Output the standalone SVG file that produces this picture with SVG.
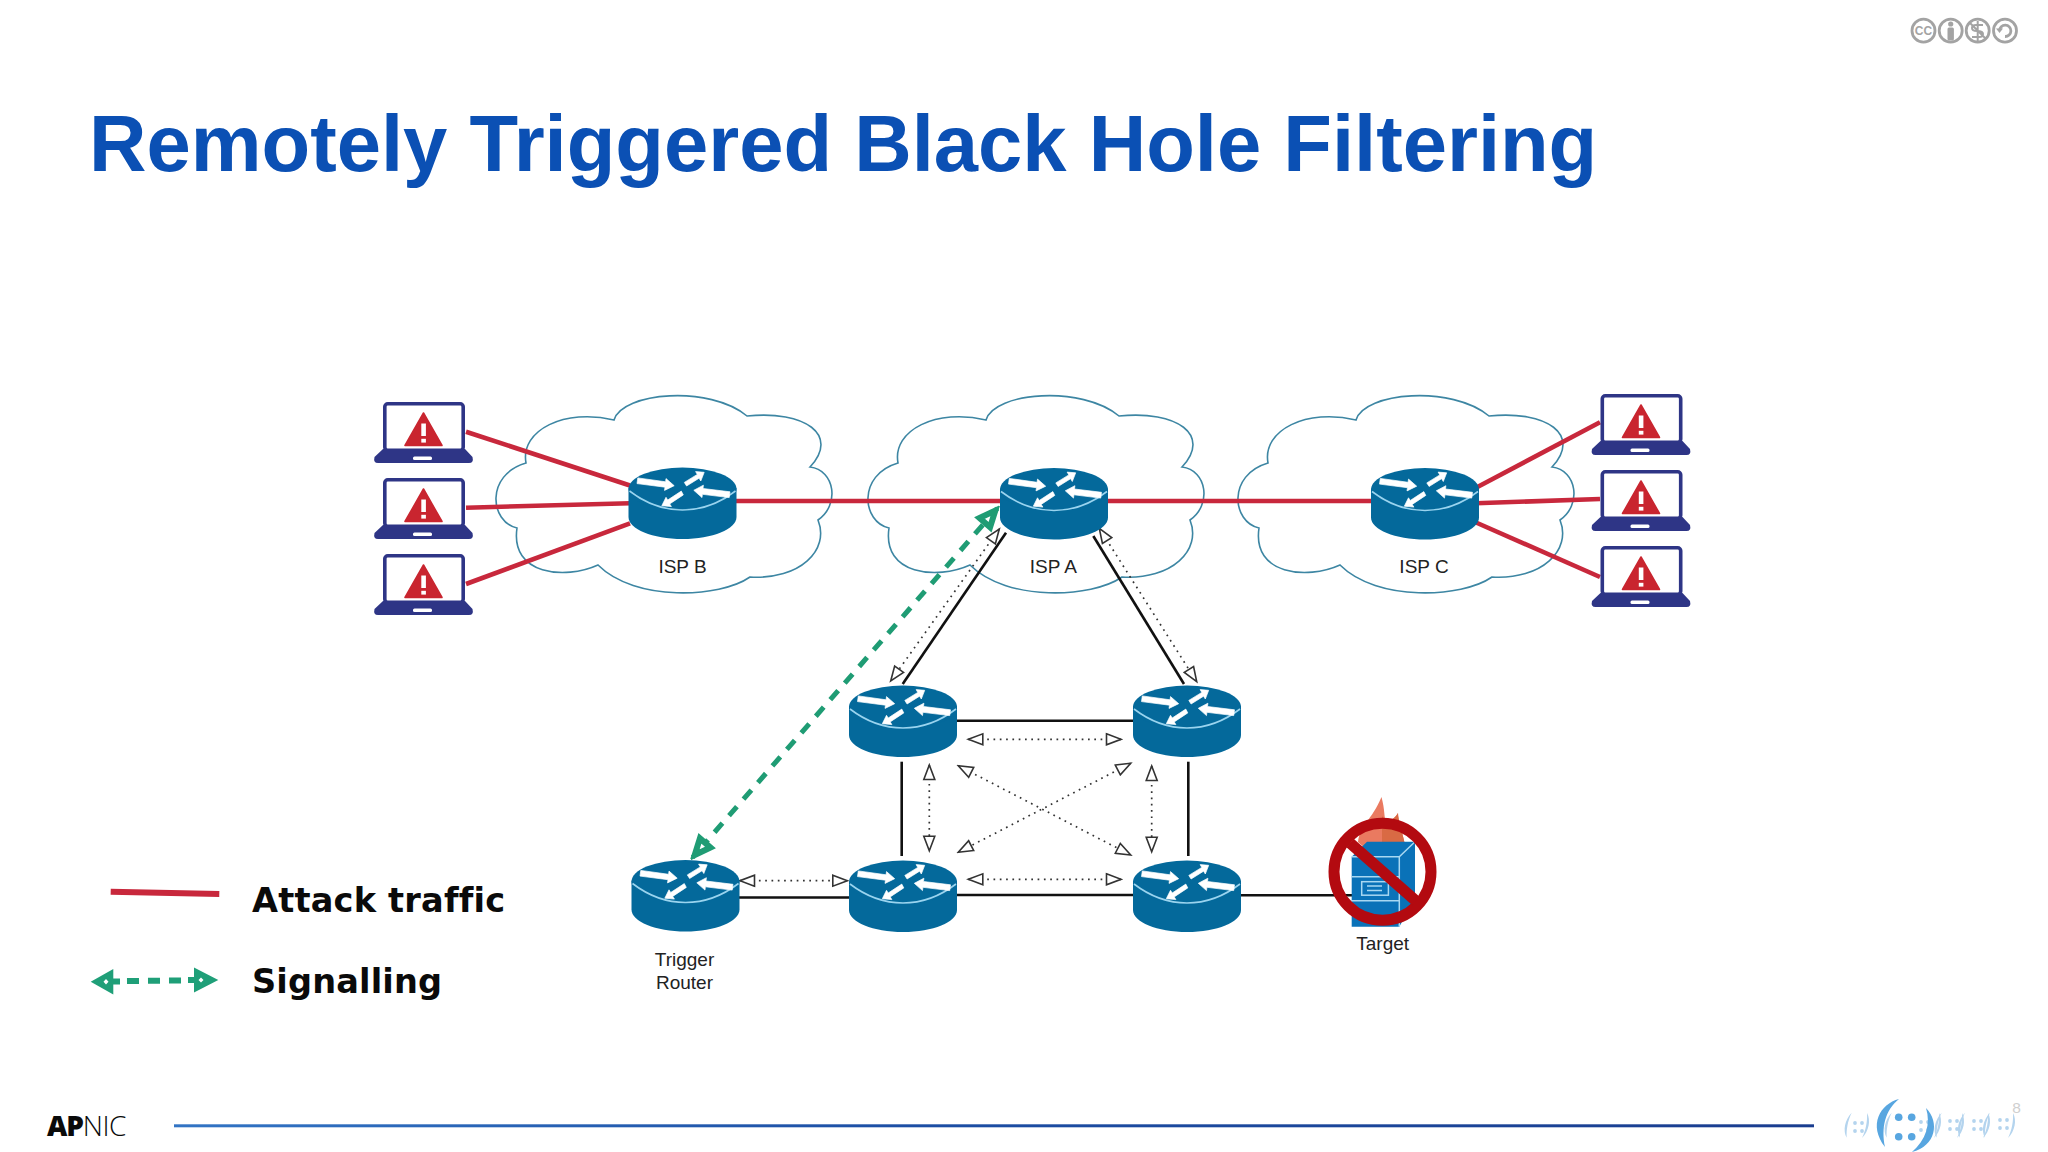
<svg xmlns="http://www.w3.org/2000/svg" xmlns:xlink="http://www.w3.org/1999/xlink" width="2048" height="1152" viewBox="0 0 2048 1152">
<style>
.title{font:700 79.6px "Liberation Sans",Arial,sans-serif;fill:#0b50b4}
.lbl{font:19px "Liberation Sans",Arial,sans-serif;fill:#222;text-anchor:middle}
.leg{font:700 33.6px "DejaVu Sans",sans-serif;fill:#0a0a0a}
.cloud{fill:none;stroke:#3d86a3;stroke-width:1.6}
.red{stroke:#c8283c;stroke-width:4.6;fill:none}
.blk{stroke:#111;stroke-width:2.6;fill:none}
.dot{stroke:#333;stroke-width:1.7;fill:none;stroke-dasharray:1.7 4.6;marker-start:url(#open);marker-end:url(#open)}
.grn{stroke:#1f9c74;stroke-width:5;fill:none;stroke-dasharray:12 10}
.gf{fill:#1f9f78}
.cc{fill:none;stroke:#a3a3a3;stroke-width:2.8}
.ccf{fill:#a3a3a3}
.blue{fill:#58a6e0}
.pale{fill:#b4d4ee}
</style>
<defs>
<linearGradient id="rule" x1="0" x2="1" y1="0" y2="0"><stop offset="0" stop-color="#3274c4"/><stop offset="0.45" stop-color="#1c4ea4"/><stop offset="1" stop-color="#1a3d8f"/></linearGradient>
<marker id="open" markerUnits="userSpaceOnUse" markerWidth="18" markerHeight="14" refX="16" refY="7" orient="auto-start-reverse"><path d="M1.5,1.5 L16,7 L1.5,12.5 Z" fill="#fff" stroke="#333" stroke-width="1.6"/></marker>
<marker id="ghead" markerUnits="userSpaceOnUse" markerWidth="26" markerHeight="24" refX="23" refY="12" orient="auto-start-reverse"><path d="M4,5 L20,12 L4,19 Z" fill="#fff" stroke="#1f9c74" stroke-width="6" stroke-linejoin="miter"/></marker>
<g id="router-icon">
<path d="M0,21 V50 C0,62 24,72 54,72 C84,72 108,62 108,50 V21 Z" fill="#04699b"/>
<ellipse cx="54" cy="22" rx="54" ry="21.5" fill="#04699b"/>
<path d="M1,24 C18,37 36,43 54,43 C72,43 90,37 107,24" fill="none" stroke="#9ad4ef" stroke-width="1.6"/>
<g fill="#fff" stroke="#fff" stroke-width="0.7" stroke-linejoin="round">
<polygon points="8.5,16.6 36.5,20.2 36,23.4 45.7,18.7 37.5,11.6 37.1,14.8 9.3,10.9"/>
<polygon points="58.1,19 70.6,11.2 72.3,14 75.7,5.3 67.1,4.6 68.8,7.4 55.8,15.4"/>
<polygon points="101.5,24.8 74.5,21.5 74.9,18.2 65.3,23.3 73.5,30.6 73.9,27.3 100.7,30.6"/>
<polygon points="54.8,27.9 41.2,36.9 42.9,39.6 33.3,38.7 37.5,30.3 39.2,33 52.8,24.1"/>
</g>
</g>
<path id="cloud-shape" d="M166,83 C160,50 205,28 254,40 C262,12 350,5 387,36 C445,30 480,55 450,87 C475,90 480,125 458,140 C470,170 440,200 390,197 C360,218 275,222 238,185 C205,200 150,195 157,148 C130,142 125,95 166,83 Z"/>
<g id="laptop-icon">
<rect x="10.8" y="1.8" width="78.4" height="46.4" rx="3" fill="#fff" stroke="#2e3586" stroke-width="3.6"/>
<path d="M9,47 H91 L98.5,55 Q100,61 95,61 H4 Q-1,61 0.5,55 Z" fill="#2e3586"/>
<rect x="39" y="54.5" width="19" height="3.6" rx="1.5" fill="#fff"/>
<path d="M49.5,11 L68,43.5 H31 Z" fill="#c9252f" stroke="#c9252f" stroke-width="1.6" stroke-linejoin="round"/>
<rect x="47.3" y="21.5" width="4.6" height="12.5" fill="#fff"/>
<rect x="47.3" y="36.8" width="4.6" height="3.8" fill="#fff"/>
</g>
<path id="cres-l" d="M0,0 C-7,7 -9,18 -5,25 C-5.5,17 -4,8 0,0 Z"/>
<path id="cres-r" d="M0,0 C7,-7 9,-18 5,-25 C5.5,-17 4,-8 0,0 Z"/>
<g id="dots4"><circle cx="0" cy="0" r="1.9"/><circle cx="7" cy="0" r="1.9"/><circle cx="0" cy="8" r="1.9"/><circle cx="7" cy="8" r="1.9"/></g>
</defs>

<rect width="2048" height="1152" fill="#fff"/>
<text class="title" x="89" y="170.5">Remotely Triggered Black Hole Filtering</text>

<g id="cc-licence">
<circle class="cc" cx="1923.5" cy="30.7" r="11.5"/><text x="1923.5" y="35" text-anchor="middle" style="font:700 12px 'Liberation Sans',sans-serif;fill:#a3a3a3">CC</text>
<circle class="cc" cx="1950.7" cy="30.7" r="11.5"/><circle class="ccf" cx="1950.7" cy="24" r="2.6"/><rect class="ccf" x="1947.5" y="27.5" width="6.4" height="13" rx="1.5"/>
<circle class="cc" cx="1977.7" cy="30.7" r="11.5"/><path class="cc" d="M1969.5,22.5 L1986,39 M1983,25 H1976 Q1972,25 1972,28 Q1972,31 1977,31 Q1983,31 1983,34 Q1983,37 1979,37 H1972 M1977.7,21 V41" style="stroke-width:2"/>
<circle class="cc" cx="2005" cy="30.7" r="11.5"/><path class="cc" d="M1999.5,30.7 A5.7,5.7 0 1 1 2005,36.5"/><path class="ccf" d="M1996,28.5 H2003 L1999.5,33 Z"/>
</g>

<g id="cloud-isp-b"><use xlink:href="#cloud-shape" href="#cloud-shape" class="cloud" transform="translate(360,380)"/></g>
<g id="cloud-isp-a"><use xlink:href="#cloud-shape" href="#cloud-shape" class="cloud" transform="translate(732,380)"/></g>
<g id="cloud-isp-c"><use xlink:href="#cloud-shape" href="#cloud-shape" class="cloud" transform="translate(1102,380)"/></g>

<g id="connectors">
<line class="red" x1="466" y1="431.7" x2="630" y2="485.5"/>
<line class="red" x1="466" y1="507.7" x2="630" y2="503.3"/>
<line class="red" x1="466" y1="584" x2="630" y2="523.3"/>
<line class="red" x1="735" y1="501" x2="1002" y2="501"/>
<line class="red" x1="1106" y1="501" x2="1373" y2="501"/>
<line class="red" x1="1476" y1="487.7" x2="1600" y2="422.2"/>
<line class="red" x1="1476" y1="503.3" x2="1600" y2="499"/>
<line class="red" x1="1476" y1="522.5" x2="1600" y2="577"/>
<line class="blk" x1="1006" y1="532.7" x2="902.7" y2="684"/>
<line class="blk" x1="1093.3" y1="536" x2="1184" y2="684"/>
<line class="blk" x1="955" y1="720.7" x2="1135" y2="720.7"/>
<line class="blk" x1="955" y1="895" x2="1135" y2="895"/>
<line class="blk" x1="737" y1="897.5" x2="851" y2="897.5"/>
<line class="blk" x1="1239" y1="895.3" x2="1352" y2="895.3"/>
<line class="blk" x1="901.7" y1="761.7" x2="901.7" y2="856"/>
<line class="blk" x1="1188.3" y1="761.7" x2="1188.3" y2="856"/>
<line class="dot" x1="999.3" y1="529" x2="890.7" y2="681"/>
<line class="dot" x1="1099.3" y1="528.3" x2="1196.7" y2="681.7"/>
<line class="dot" x1="968.3" y1="739.3" x2="1121" y2="739.3"/>
<line class="dot" x1="968.3" y1="879.3" x2="1121" y2="879.3"/>
<line class="dot" x1="929.3" y1="765" x2="929.3" y2="850.7"/>
<line class="dot" x1="1151.7" y1="766" x2="1151.7" y2="851.7"/>
<line class="dot" x1="958.3" y1="765.7" x2="1130.7" y2="855"/>
<line class="dot" x1="1130.7" y1="763.3" x2="958.3" y2="852.3"/>
<line class="dot" x1="740" y1="880.7" x2="847.3" y2="880.7"/>
<line class="grn" x1="997.3" y1="508.3" x2="692.7" y2="857.3" style="marker-start:url(#ghead);marker-end:url(#ghead)"/>
</g>

<g id="isp-b"><use xlink:href="#router-icon" href="#router-icon" x="628.5" y="467"/><text class="lbl" x="682.5" y="573">ISP B</text></g>
<g id="isp-a"><use xlink:href="#router-icon" href="#router-icon" x="1000" y="467.5"/><text class="lbl" x="1053.3" y="573">ISP A</text></g>
<g id="isp-c"><use xlink:href="#router-icon" href="#router-icon" x="1371" y="467.5"/><text class="lbl" x="1424" y="573">ISP C</text></g>
<g id="router-tl"><use xlink:href="#router-icon" href="#router-icon" x="849" y="685"/></g>
<g id="router-tr"><use xlink:href="#router-icon" href="#router-icon" x="1133" y="685"/></g>
<g id="router-bl"><use xlink:href="#router-icon" href="#router-icon" x="849" y="860"/></g>
<g id="router-br"><use xlink:href="#router-icon" href="#router-icon" x="1133" y="860"/></g>
<g id="trigger-router"><use xlink:href="#router-icon" href="#router-icon" x="631.5" y="859.5"/><text class="lbl" x="684.5" y="965.5">Trigger</text><text class="lbl" x="684.5" y="988.8">Router</text></g>

<g id="laptop-l1"><use xlink:href="#laptop-icon" href="#laptop-icon" x="374" y="402"/></g>
<g id="laptop-l2"><use xlink:href="#laptop-icon" href="#laptop-icon" x="374" y="478"/></g>
<g id="laptop-l3"><use xlink:href="#laptop-icon" href="#laptop-icon" x="374" y="554"/></g>
<g id="laptop-r1"><use xlink:href="#laptop-icon" href="#laptop-icon" x="1591.5" y="394"/></g>
<g id="laptop-r2"><use xlink:href="#laptop-icon" href="#laptop-icon" x="1591.5" y="470"/></g>
<g id="laptop-r3"><use xlink:href="#laptop-icon" href="#laptop-icon" x="1591.5" y="546"/></g>

<g id="target">
<path d="M1358,842 C1360,825 1372,820 1381.5,797 C1385,810 1384,818 1386,822 C1392,820 1395,818 1398,813 C1398,820 1402,830 1405,845 C1402,855 1385,858 1375,857 Z" fill="#ea7a60"/>
<path d="M1382,816 C1384,818 1385,820 1386,822 C1392,820 1395,818 1398,813 C1398,820 1402,830 1405,845 C1402,855 1390,858 1382,858 Z" fill="#d96a44"/>
<path d="M1351.7,856.7 L1367,841.7 H1415 V898 L1399.3,926.7 H1351.7 Z" fill="#0a72b8"/>
<path d="M1351.7,856.7 H1399.3 L1415,841.7 M1399.3,856.7 V926.7 M1351.7,876.7 H1399.3 M1351.7,900.7 H1399.3" fill="none" stroke="#a8d8f2" stroke-width="1.5"/>
<rect x="1361.7" y="881.7" width="26.7" height="13.5" fill="none" stroke="#a8d8f2" stroke-width="1.5"/>
<path d="M1367,886 H1382 M1367,890.5 H1382" stroke="#a8d8f2" stroke-width="1.5"/>
<circle cx="1382.5" cy="871.7" r="48.5" fill="none" stroke="#b30a10" stroke-width="11"/>
<line x1="1350" y1="843" x2="1416" y2="901" stroke="#b30a10" stroke-width="11"/>
<text class="lbl" x="1382.7" y="950">Target</text>
</g>

<g id="legend">
<line x1="110.7" y1="891.7" x2="219.3" y2="894" stroke="#c8283c" stroke-width="6"/>
<text class="leg" x="252" y="911.7" style="letter-spacing:0.2px">Attack traffic</text>
<line x1="127" y1="981" x2="181" y2="980.5" stroke="#1f9f78" stroke-width="6" stroke-dasharray="12 9"/>
<path class="gf" fill-rule="evenodd" d="M90.7,981.7 L113.3,969 V994.5 Z M106,979 L108.5,981.7 L106,984.5 L103.5,981.7 Z"/>
<path class="gf" fill-rule="evenodd" d="M218.3,980 L194,967.5 V992.5 Z M201,977.5 L203.5,980 L201,982.5 L198.5,980 Z"/>
<line x1="113" y1="981.5" x2="120" y2="981.5" stroke="#1f9f78" stroke-width="6"/>
<line x1="188" y1="980" x2="194" y2="980" stroke="#1f9f78" stroke-width="6"/>
<text class="leg" x="252" y="992.7" style="letter-spacing:0.15px">Signalling</text>
</g>

<g id="footer">
<text x="47" y="1136" style="font:800 28px 'Open Sans',sans-serif;fill:#0a0a0a;letter-spacing:-1.2px">AP<tspan style="font-weight:300;letter-spacing:-0.4px">NIC</tspan></text>
<rect x="174" y="1124.3" width="1640" height="3" fill="url(#rule)"/>
<g class="pale">
<use xlink:href="#cres-l" href="#cres-l" x="1851.7" y="1112.7"/><use xlink:href="#dots4" href="#dots4" x="1855" y="1123"/><use xlink:href="#cres-r" href="#cres-r" x="1862" y="1138"/>
<use xlink:href="#cres-l" href="#cres-l" x="1891.7" y="1112.7"/><use xlink:href="#dots4" href="#dots4" x="1921" y="1122"/><use xlink:href="#cres-r" href="#cres-r" x="1934" y="1138"/>
<use xlink:href="#cres-l" href="#cres-l" x="1941.7" y="1112.7"/><use xlink:href="#dots4" href="#dots4" x="1950" y="1121"/><use xlink:href="#cres-r" href="#cres-r" x="1957" y="1138"/>
<use xlink:href="#cres-l" href="#cres-l" x="1965" y="1112.7"/><use xlink:href="#dots4" href="#dots4" x="1974" y="1121"/><use xlink:href="#cres-r" href="#cres-r" x="1983" y="1138"/>
<use xlink:href="#cres-l" href="#cres-l" x="1990" y="1112.7"/><use xlink:href="#dots4" href="#dots4" x="2000" y="1120"/><use xlink:href="#cres-r" href="#cres-r" x="2008" y="1138"/>
</g>
<path class="blue" d="M1899,1099 C1880,1104 1868,1125 1885,1147 C1881,1128 1885,1110 1899,1099 Z"/>
<path class="blue" d="M1926,1108 C1940,1122 1936,1146 1912,1152 C1926,1140 1931,1124 1926,1108 Z"/>
<g class="blue"><circle cx="1898.7" cy="1117.3" r="3.8"/><circle cx="1911.7" cy="1117.3" r="3.8"/><circle cx="1898.7" cy="1136.7" r="3.8"/><circle cx="1911.7" cy="1136.7" r="3.8"/></g>
<text x="2016.5" y="1112.7" text-anchor="middle" style="font:15.5px 'Liberation Sans',sans-serif;fill:#cfcfcf">8</text>
</g>
</svg>
